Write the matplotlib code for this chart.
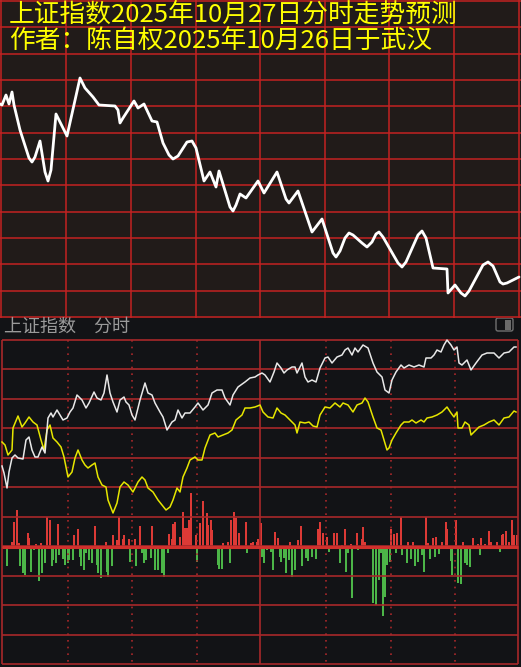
import matplotlib
matplotlib.use('Agg')
import matplotlib.pyplot as plt
from matplotlib.patches import FancyBboxPatch, Rectangle

plt.rcParams['font.family'] = ['Noto Sans CJK SC', 'DejaVu Sans']

# ---- text ----
title_1 = '上证指数2025年10月27日分时走势预测'
title_2 = '作者：陈自权2025年10月26日于武汉'
header = '上证指数\u3000分时'

# ---- predicted curve (top panel), chart units: x = time slot, y = row from top ----
pred_x = [0, 2, 6, 9, 12, 14, 20, 29, 32, 35, 40, 45, 48, 51, 56, 67, 80,
          85, 93, 99, 115, 118, 120, 123, 134, 138, 144, 152, 157, 163,
          169, 173, 178, 187, 192, 196, 204, 210, 216, 219,
          230, 233, 236, 240, 246, 258, 264, 277, 286, 289, 292, 298,
          312, 322, 333, 336, 340, 345, 349, 353, 362, 367, 372, 376, 379, 383,
          398, 402, 406, 418, 422, 426, 433, 447, 448, 455, 461, 465, 469,
          483, 488, 493, 500, 503, 507, 519]
pred_y = [104, 105, 95, 104, 92, 105, 130, 158, 162, 157, 141, 172, 181, 170, 114, 136, 78,
          88, 97, 105, 106, 110, 123, 118, 101, 108, 104, 121, 122, 143,
          155, 159, 156, 142, 141, 148, 181, 172, 187, 171,
          207, 211, 205, 194, 198, 181, 193, 172, 199, 203, 199, 191,
          232, 219, 253, 257, 251, 238, 233, 235, 243, 247, 242, 234, 232, 237,
          263, 267, 262, 235, 231, 238, 268, 269, 293, 285, 293, 296, 291,
          265, 262, 266, 282, 284, 283, 277]

# ---- actual intraday (bottom panel) ----
white_x = [2, 4, 7, 9, 12, 15, 18, 23, 26, 29,
           32, 35, 38, 42, 45, 48, 51, 53, 57, 63,
           67, 70, 73, 77, 82, 86, 89, 94, 97, 101,
           104, 107, 110, 113, 117, 120, 124, 126, 129, 132,
           135, 140, 145, 148, 152, 155, 160, 163, 167, 172,
           175, 178, 182, 185, 190, 195, 198, 203, 208, 212,
           217, 222, 225, 230, 233, 238, 245, 250, 255, 258,
           262, 265, 270, 274, 277, 281, 284, 287, 292, 295,
           297, 302, 305, 308, 312, 316, 320, 325, 328, 332,
           337, 342, 345, 348, 352, 355, 358, 363, 368, 373,
           377, 382, 385, 389, 392, 396, 401, 404, 409, 414,
           419, 424, 426, 431, 434, 437, 441, 444, 447, 451,
           454, 457, 459, 462, 467, 471, 476, 482, 487, 494,
           499, 504, 509, 514, 516]
white_y = [466, 473, 488, 472, 458, 455, 458, 459, 440, 437,
           450, 457, 457, 447, 453, 418, 413, 417, 410, 420,
           418, 412, 408, 395, 400, 408, 403, 392, 398, 400,
           393, 375, 393, 402, 412, 400, 397, 402, 405, 415,
           420, 400, 383, 393, 395, 403, 412, 417, 430, 422,
           420, 410, 418, 413, 413, 407, 403, 410, 405, 393,
           390, 390, 398, 405, 395, 387, 382, 378, 377, 375,
           373, 375, 382, 372, 363, 368, 373, 370, 367, 367,
           373, 363, 377, 382, 380, 382, 368, 358, 357, 363,
           357, 355, 350, 348, 355, 348, 352, 345, 348, 363,
           372, 377, 390, 393, 380, 372, 365, 368, 365, 367,
           365, 367, 358, 358, 355, 350, 352, 345, 340, 345,
           350, 347, 363, 365, 360, 370, 363, 355, 353, 353,
           358, 353, 352, 347, 347]

yellow_x = [2, 5, 8, 12, 13, 18, 22, 25, 29, 33,
            37, 41, 44, 47, 50, 53, 57, 61, 64, 68,
            72, 75, 78, 82, 85, 88, 92, 95, 98, 102,
            106, 108, 113, 117, 120, 124, 128,
            133, 138, 142, 145, 148, 153, 158, 162, 166, 170,
            173, 177, 180, 183, 187, 190, 195, 198, 202, 205,
            210, 215, 218, 223, 228, 232, 236, 242, 245, 250,
            255,
            260, 263, 268, 273, 277, 281, 285, 290, 295, 297,
            300, 305, 309, 313, 317, 320, 325, 330, 335, 340,
            343, 348, 353, 357, 362, 365, 368, 373, 377, 381,
            384, 387,
            389, 392, 396, 401, 404, 409, 412, 416, 421, 424,
            427, 432, 437, 442, 447, 451, 454, 457, 458, 462,
            465, 469, 471, 474, 479, 484, 489, 494, 499, 504,
            509, 514, 516]
yellow_y = [442, 445, 455, 450, 428, 416, 427, 423, 417, 422,
            425, 440, 450, 430, 425, 438, 442, 447, 457, 477,
            472, 458, 450, 460, 465, 468, 465, 463, 477, 485,
            487, 500, 513, 503, 487, 482, 485,
            492, 482, 477, 480, 488, 492, 500, 505, 510, 507,
            500, 488, 492, 477, 468, 460, 457, 460, 460, 448,
            435, 433, 437, 435, 433, 430, 420, 415, 408, 408,
            407,
            405, 412, 417, 418, 408, 413, 415, 420, 425, 433,
            422, 423, 422, 426, 427, 415, 407, 408, 403, 407,
            403, 405, 412, 405, 403, 398, 402, 417, 428, 430,
            440, 450,
            448, 440, 433, 425, 422, 422, 420, 423, 420, 422,
            418, 417, 415, 412, 407, 413, 417, 412, 428, 428,
            422, 425, 435, 432, 427, 425, 422, 420, 425, 418,
            417, 411, 412]

# volume bars around the zero line
up_x = [12, 14, 17, 19, 28, 29, 36, 41, 47, 50,
        58, 74, 78, 95, 106, 113, 117, 119, 123, 124,
        129, 135, 140, 152, 169, 172, 173, 175, 180, 183,
        185, 187, 189, 191, 196, 200, 203, 207, 208, 211,
        212, 223, 228, 231, 234, 236, 239, 246, 251, 253,
        257, 258, 261, 275, 278, 290, 298, 301, 318, 320,
        323, 327, 334, 337, 342, 345, 351, 357, 362, 363,
        365, 391, 394, 397, 401, 408, 413, 426, 428, 433,
        436, 442, 446, 447, 456, 463, 473, 478, 481, 485,
        489, 491, 497, 502, 503, 506, 509, 512, 514, 517]
up_h = [5, 25, 37, 4, 14, 9, 3, 4, 30, 27,
        23, 12, 18, 21, 5, 12, 7, 30, 8, 12,
        8, 8, 21, 21, 13, 8, 23, 25, 10, 35,
        19, 19, 27, 54, 12, 24, 46, 34, 22, 27,
        17, 4, 5, 27, 35, 29, 14, 25, 4, 5,
        5, 8, 24, 15, 9, 5, 7, 21, 18, 25,
        14, 10, 14, 14, 2, 18, 3, 14, 8, 20,
        5, 18, 13, 14, 30, 5, 5, 30, 4, 9,
        10, 5, 25, 18, 27, 5, 9, 3, 9, 3,
        16, 5, 5, 12, 13, 16, 5, 27, 12, 12]
down_x = [3, 7, 20, 23, 25, 31, 34, 39, 42, 45,
          52, 53, 56, 59, 63, 65, 68, 69, 73, 80,
          81, 84, 86, 89, 92, 97, 98, 101, 107, 108,
          112, 127, 130, 136, 142, 144, 146, 151, 155, 158,
          162, 164, 168, 197, 218, 219, 222, 230, 247, 262,
          264, 267, 271, 273, 280, 281, 284, 286, 289, 292,
          295, 302, 306, 308, 312, 316, 329, 340, 346, 348,
          352, 358, 368, 373, 376, 379, 381, 383, 385, 387,
          390, 396, 402, 407, 411, 415, 418, 422, 424, 430,
          435, 439, 451, 452, 458, 461, 465, 467, 470, 480,
          500]
down_h = [1, 19, 19, 26, 28, 25, 3, 34, 26, 16,
          19, 13, 16, 8, 12, 18, 16, 13, 13, 10,
          19, 23, 6, 13, 16, 18, 26, 31, 25, 30,
          19, 1, 15, 19, 6, 16, 13, 11, 23, 23,
          26, 30, 6, 15, 18, 22, 22, 16, 6, 10,
          16, 3, 5, 23, 10, 15, 11, 26, 13, 30,
          23, 19, 11, 14, 10, 12, 5, 16, 25, 6,
          51, 3, 2, 56, 58, 33, 6, 69, 50, 18,
          15, 6, 8, 16, 12, 19, 15, 8, 25, 12,
          10, 7, 14, 28, 36, 37, 16, 18, 20, 8,
          5]

W, H = 521, 667
ZERO = 547


def clean(ax):
    for s in ax.spines.values():
        s.set_visible(False)
    ax.set_xticks([])
    ax.set_yticks([])


fig = plt.figure(figsize=(W / 100, H / 100), dpi=100)
fig.patch.set_facecolor('#121316')

# ---------- top: forecast ----------
ax1 = fig.add_axes([0, (H - 318) / H, 1, 318 / H])
ax1.set_facecolor('#211b19')
ax1.set_xlim(0, W)
ax1.set_ylim(318, 0)
clean(ax1)
red1 = '#c42222'
for x in [1, 66, 131, 196, 260, 325, 389, 454, 519]:
    ax1.axvline(x, color=red1, lw=1.1)
for k in range(13):
    ax1.axhline(1 + k * 26.33, color=red1, lw=1.1)
ax1.plot(pred_x, pred_y, color='white', lw=2.0, solid_joinstyle='round',
         solid_capstyle='round')
ax1.text(9, 15, title_1, color='#ffff00', fontsize=18.5, va='center', ha='left')
ax1.text(9, 41, title_2, color='#ffff00', fontsize=18.5, va='center', ha='left')

# ---------- bottom: actual ----------
ax2 = fig.add_axes([0, 0, 1, (H - 318) / H])
ax2.set_facecolor('#121316')
ax2.set_xlim(0, W)
ax2.set_ylim(H, 318)
clean(ax2)

ax2.text(4, 327, header, color='#9a9a9a', fontsize=13, va='center', ha='left')
ax2.add_patch(FancyBboxPatch((496, 318), 17, 13, boxstyle='round,pad=0,rounding_size=2',
                             fc='none', ec='#707070', lw=1.0))
ax2.add_patch(Rectangle((505, 320), 6, 10, fc='#6a6a6a', ec='none'))

red2 = '#a8282a'
for k in range(12):
    ax2.hlines(340 + k * 29.45, 2, 518, color=red2, lw=1.2)
for x in [2, 260, 518]:
    ax2.vlines(x, 340, 664, color=red2, lw=1.2)
for x in [68, 132, 197, 326, 391, 455]:
    ax2.vlines(x, 340, 664, color=red2, lw=1.2, linestyles=(0, (1, 3)))

ax2.bar(up_x, [-h for h in up_h], bottom=ZERO, width=1.3, color='#dc3a36', lw=0)
ax2.bar(down_x, down_h, bottom=ZERO, width=1.3, color='#4cb548', lw=0)
ax2.hlines(ZERO, 2, 518, color='#d0302c', lw=2.2)

ax2.plot(yellow_x, yellow_y, color='#e6e600', lw=1.1)
ax2.plot(white_x, white_y, color='#e8e8e8', lw=1.1)

fig.savefig('out.png', dpi=100, facecolor=fig.get_facecolor())
